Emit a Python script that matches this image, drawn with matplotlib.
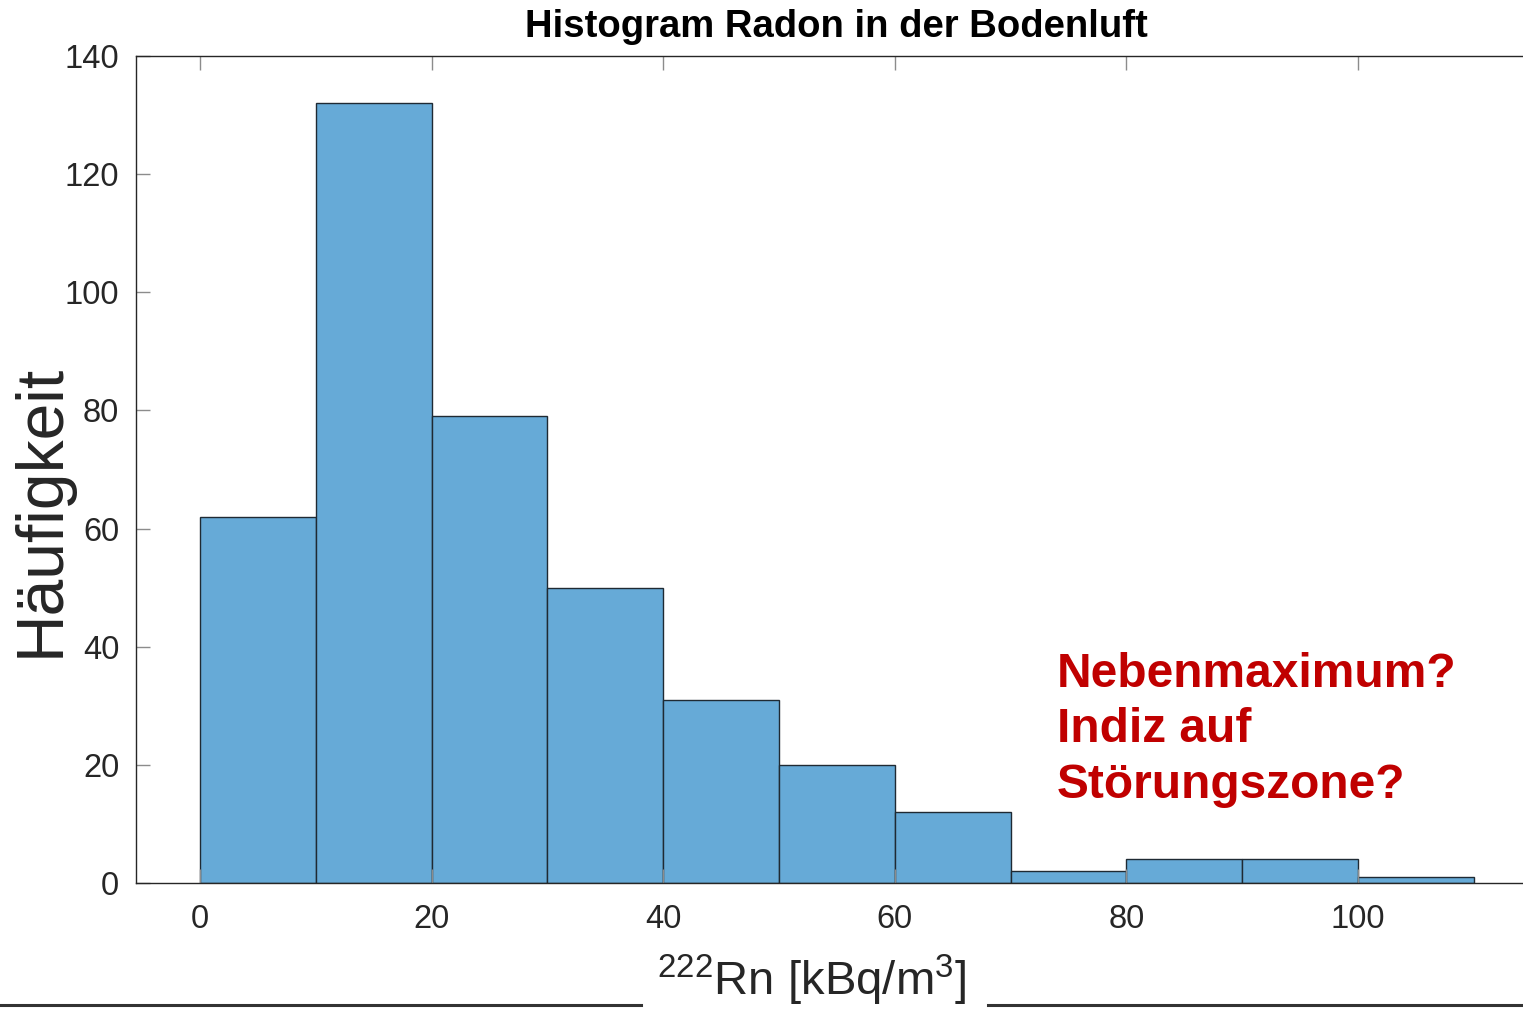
import matplotlib
matplotlib.use('Agg')
import matplotlib.pyplot as plt
from matplotlib.lines import Line2D
import numpy as np

plt.rcParams['font.family'] = ['Liberation Sans', 'DejaVu Sans']
plt.rcParams['mathtext.fontset'] = 'custom'
plt.rcParams['mathtext.rm'] = 'Liberation Sans'
plt.rcParams['mathtext.it'] = 'Liberation Sans:italic'

# Radon-Messwerte, Klassenbreite 10 kBq/m^3
bin_edges = np.arange(0, 120, 10)
counts = [62, 132, 79, 50, 31, 20, 12, 2, 4, 4, 1]
x_ticks = [0, 20, 40, 60, 80, 100]
y_ticks = [0, 20, 40, 60, 80, 100, 120, 140]

W, H = 1523, 1011
fig = plt.figure(figsize=(W / 100, H / 100), dpi=100)
ax = fig.add_axes([136 / W, 1 - 883 / H, 1 - 136 / W, (883 - 56) / H])

ax.bar(bin_edges[:-1], counts, width=10, align='edge',
       color='#66AAD7', edgecolor='#1f2a33', linewidth=1.0)

ax.set_xlim(-5.53, 114.25)
ax.set_ylim(0, 140)
ax.set_xticks(x_ticks)
ax.set_yticks(y_ticks)

grey = '#262626'
for side in ['left', 'bottom', 'top']:
    ax.spines[side].set_color(grey)
    ax.spines[side].set_linewidth(1.0)
ax.spines['right'].set_visible(False)

ax.tick_params(direction='in', length=10, width=1.0, color='#8c8c8c',
               labelsize=23.5, labelcolor=grey, top=True, pad=12)
ax.tick_params(axis='x', pad=15)

fig.text(836 / W, 1 - 27 / H, 'Histogram Radon in der Bodenluft',
         ha='center', va='center', fontsize=27.5, fontweight='bold', color='black')

fig.text(42 / W, 1 - 510 / H, 'Häufigkeit', rotation=90,
         ha='center', va='center', fontsize=47.5, color=grey)

fig.text(812 / W, 1 - 980 / H, r'$^{222}$Rn [kBq/m$^{3}$]',
         ha='center', va='center', fontsize=34, color=grey)

ax.text(1057 / W, 1 - 730 / H, 'Nebenmaximum?\nIndiz auf\nStörungszone?',
        transform=fig.transFigure, ha='left', va='center', fontsize=34.5,
        fontweight='bold', color='#C00000', linespacing=1.3)

# Trennlinien links und rechts der Achsenbeschriftung
fig.add_artist(Line2D([0, 641 / W], [1 - 1005 / H] * 2, color='#333333',
                      linewidth=2.2, transform=fig.transFigure))
fig.add_artist(Line2D([988 / W, 1], [1 - 1005 / H] * 2, color='#333333',
                      linewidth=2.2, transform=fig.transFigure))

fig.savefig('out.png', dpi=100)
